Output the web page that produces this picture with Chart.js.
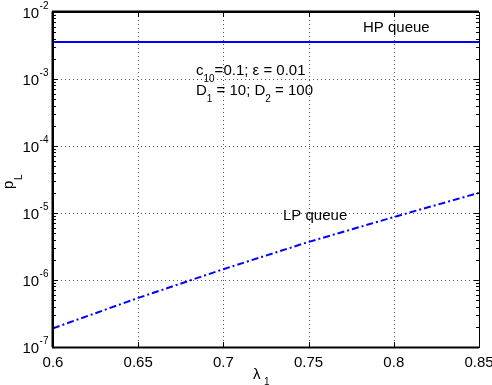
<!DOCTYPE html>
<html><head><meta charset="utf-8">
<script src="https://cdn.jsdelivr.net/npm/chart.js@4/dist/chart.umd.min.js"></script>
<style>html,body{margin:0;padding:0;background:#fff}#wrap{width:492px;height:385px}</style>
</head><body><div id="wrap"><canvas id="c" width="492" height="385"></canvas></div>
<script>
const lambda1 = [0.6, 0.65, 0.7, 0.75, 0.8, 0.85];
const hpQueue = [3.56e-3, 3.56e-3, 3.56e-3, 3.56e-3, 3.56e-3, 3.56e-3];
const lpQueue = [1.9e-7, 5.4e-7, 1.45e-6, 3.7e-6, 8.7e-6, 2.0e-5];
const xTicks = [0.6, 0.65, 0.7, 0.75, 0.8, 0.85];
const xTickLabels = ['0.6', '0.65', '0.7', '0.75', '0.8', '0.85'];
const yExponents = [-7, -6, -5, -4, -3, -2];

const FONT = '"Liberation Sans", Arial, sans-serif';
const BIG = '15px ' + FONT;
const SMALL = '10px ' + FONT;

const matlabAxes = {
  id: 'matlabAxes',
  beforeDatasetsDraw(chart) {
    const {ctx, chartArea: a, scales: {x, y}} = chart;
    ctx.save();
    ctx.strokeStyle = '#555';
    ctx.lineWidth = 1;
    ctx.setLineDash([1, 3]);
    xTicks.forEach(v => {
      const px = Math.round(x.getPixelForValue(v)) + 0.5;
      if (px < a.left + 2 || px > a.right - 2) return;
      ctx.beginPath(); ctx.moveTo(px, a.top); ctx.lineTo(px, a.bottom); ctx.stroke();
    });
    yExponents.forEach(e => {
      const py = Math.round(y.getPixelForValue(Math.pow(10, e))) + 0.5;
      if (py < a.top + 2 || py > a.bottom - 2) return;
      ctx.beginPath(); ctx.moveTo(a.left, py); ctx.lineTo(a.right, py); ctx.stroke();
    });
    ctx.restore();
  },
  afterDraw(chart) {
    const {ctx, chartArea: a, scales: {x, y}} = chart;
    ctx.save();
    ctx.setLineDash([]);
    ctx.strokeStyle = '#000';
    ctx.lineWidth = 1;
    ctx.beginPath();
    xTicks.forEach(v => {
      const px = Math.round(x.getPixelForValue(v)) + 0.5;
      ctx.moveTo(px, a.bottom); ctx.lineTo(px, a.bottom - 5);
      ctx.moveTo(px, a.top); ctx.lineTo(px, a.top + 5);
    });
    for (let e = -7; e <= -2; e++) {
      const py = Math.round(y.getPixelForValue(Math.pow(10, e))) + 0.5;
      ctx.moveTo(a.left, py); ctx.lineTo(a.left + 5, py);
      ctx.moveTo(a.right, py); ctx.lineTo(a.right - 5, py);
      if (e < -2) {
        for (let m = 2; m <= 9; m++) {
          const pm = Math.round(y.getPixelForValue(m * Math.pow(10, e))) + 0.5;
          ctx.moveTo(a.left, pm); ctx.lineTo(a.left + 3, pm);
          ctx.moveTo(a.right, pm); ctx.lineTo(a.right - 3, pm);
        }
      }
    }
    ctx.stroke();
    ctx.lineWidth = 1;
    ctx.strokeRect(Math.round(a.left) + 0.5, Math.round(a.top) + 0.5, Math.round(a.right - a.left), Math.round(a.bottom - a.top));
    ctx.beginPath();
    ctx.lineWidth = 2;
    ctx.moveTo(a.left - 1, a.bottom + 0.5); ctx.lineTo(a.right, a.bottom + 0.5);
    ctx.moveTo(a.left - 0.5, a.top - 0.5); ctx.lineTo(a.left - 0.5, a.bottom);
    ctx.moveTo(a.left - 1, a.top - 0.5); ctx.lineTo(a.right, a.top - 0.5);
    ctx.stroke();
    // x tick labels
    ctx.fillStyle = '#000';
    ctx.font = BIG;
    ctx.textAlign = 'center';
    ctx.textBaseline = 'alphabetic';
    xTicks.forEach((v, i) => {
      ctx.fillText(xTickLabels[i], x.getPixelForValue(v), a.bottom + 20);
    });
    // y tick labels 10^e
    ctx.textAlign = 'left';
    yExponents.forEach(e => {
      const py = y.getPixelForValue(Math.pow(10, e));
      const base = '10';
      const exp = '-' + Math.abs(e);
      ctx.font = SMALL;
      const ew = ctx.measureText(exp).width;
      ctx.font = BIG;
      const bw = ctx.measureText(base).width;
      const xStart = a.left - 5 - ew - bw;
      ctx.fillText(base, xStart, py + 6);
      ctx.font = SMALL;
      ctx.fillText(exp, xStart + bw + 0.5, py - 3);
    });
    // axis labels
    ctx.font = BIG;
    ctx.fillText('\u03bb', 253, 379);
    ctx.font = SMALL;
    ctx.fillText('1', 264, 385);
    ctx.save();
    ctx.translate(13, 189);
    ctx.rotate(-Math.PI / 2);
    ctx.font = BIG;
    ctx.fillText('p', 0, 0);
    ctx.font = SMALL;
    ctx.fillText('L', 9, 9);
    ctx.restore();
    // annotations
    const txt = (parts, x0, y0) => {
      let cx = x0;
      parts.forEach(p => {
        ctx.font = p.sub ? SMALL : BIG;
        ctx.fillText(p.t, cx, y0 + (p.sub ? 7 : 0));
        cx += ctx.measureText(p.t).width;
      });
    };
    txt([{t: 'HP queue'}], 363, 32);
    txt([{t: 'c'}, {t: '10', sub: true}, {t: '=0.1; \u03b5 = 0.01'}], 196, 75);
    txt([{t: 'D'}, {t: '1', sub: true}, {t: ' = 10; D'}, {t: '2', sub: true}, {t: ' = 100'}], 196, 95);
    txt([{t: 'LP queue'}], 283, 220);
    ctx.restore();
  }
};

new Chart(document.getElementById('c'), {
  type: 'line',
  data: {
    datasets: [
      {label: 'HP queue', data: lambda1.map((v, i) => ({x: v, y: hpQueue[i]})),
       borderColor: '#0000ff', borderWidth: 2, pointRadius: 0, fill: false, tension: 0},
      {label: 'LP queue', data: lambda1.map((v, i) => ({x: v, y: lpQueue[i]})),
       borderColor: '#0000ff', borderWidth: 2, borderDash: [7, 3, 2, 3], pointRadius: 0, fill: false, tension: 0}
    ]
  },
  options: {
    responsive: false,
    animation: false,
    devicePixelRatio: 1,
    layout: {padding: {left: 53, right: 13, top: 12, bottom: 38}},
    plugins: {legend: {display: false}, tooltip: {enabled: false}},
    scales: {
      x: {type: 'linear', min: 0.6, max: 0.85,
          ticks: {display: false}, grid: {display: false, drawTicks: false}, border: {display: false}},
      y: {type: 'logarithmic', min: 1e-7, max: 1e-2,
          ticks: {display: false}, grid: {display: false, drawTicks: false}, border: {display: false}}
    }
  },
  plugins: [matlabAxes]
});
</script></body></html>
